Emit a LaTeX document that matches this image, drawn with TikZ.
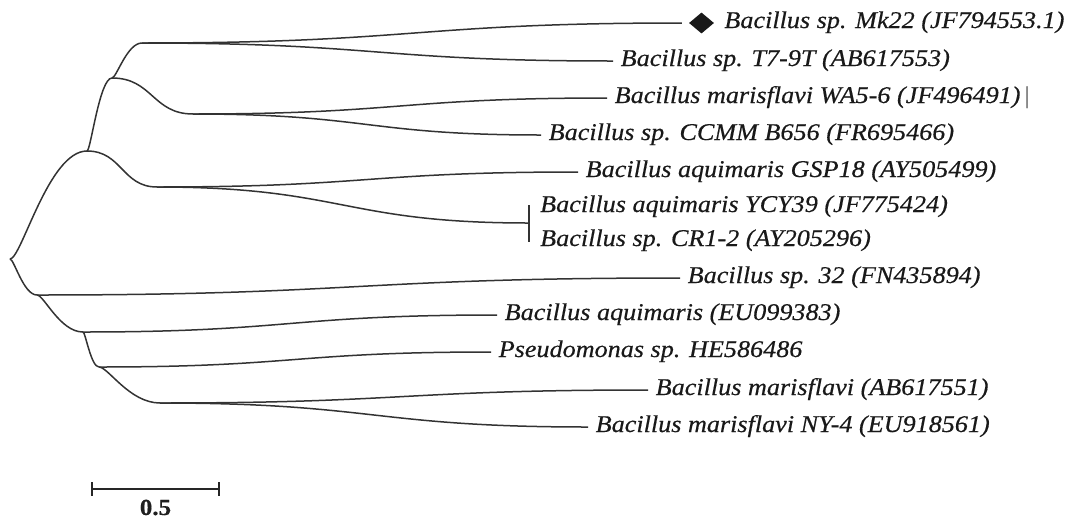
\documentclass[tikz,border=0pt]{standalone}
\usepackage{fontspec}
\setmainfont{Liberation Serif}[FakeStretch=1.09, FakeBold=0.4]
\usetikzlibrary{calc,shapes.geometric}
\begin{document}
\begin{tikzpicture}[x=1pt,y=-1pt,
  edge/.style={draw=black!80, line width=1.5pt},
  sig/.style={to path={let \p1=(\tikztostart),\p2=(\tikztotarget) in
     .. controls ({\x1+#1*(\x2-\x1)},\y1) and ({0.5*\x1+0.5*\x2},\y2) .. (\tikztotarget)}},
  sig/.default=0.5,
  lab/.style={anchor=west, inner xsep=7.5pt, inner ysep=0pt, text height=16pt, text depth=6pt,
     font=\fontsize{24}{28}\selectfont\itshape, text=black!90},
  tip/.style={diamond, fill=black!90, minimum width=25pt, minimum height=21pt, inner sep=0pt},
  scalebar/.style={draw=black!85, line width=2.8pt}
]
\useasboundingbox (0,0) rectangle (1070,520);

% internal nodes
\coordinate (R) at (10,259);
\coordinate (D) at (87,151);
\coordinate (B) at (112,78);
\coordinate (A) at (142,43);
\coordinate (C) at (193,114);
\coordinate (E) at (157,187);
\coordinate (F) at (37,295);
\coordinate (G) at (83,332);
\coordinate (H) at (99,367);
\coordinate (I) at (160,403);
\coordinate (Ym) at (529,223);
\coordinate (Yt) at (529,205);
\coordinate (Yb) at (529,242);

% leaves
\node[tip] (dia) at (701.5,23) {};
\node[lab, inner xsep=10pt] (t1) at (dia.east) {Bacillus sp. Mk22 (JF794553.1)};
\node[lab] (t2) at (613,61) {Bacillus sp. T7-9T (AB617553)};
\node[lab] (t3) at (607,98) {Bacillus marisflavi WA5-6 (JF496491){\upshape\color{black!60}\,|}};
\node[lab] (t4) at (541,135) {Bacillus sp. CCMM B656 (FR695466)};
\node[lab] (t5) at (578,172) {Bacillus aquimaris GSP18 (AY505499)};
\node[lab, inner xsep=11pt] (t6) at (529,207) {Bacillus aquimaris YCY39 (JF775424)};
\node[lab, inner xsep=11pt] (t7) at (529,241) {Bacillus sp. CR1-2 (AY205296)};
\node[lab] (t8) at (680,278) {Bacillus sp. 32 (FN435894)};
\node[lab] (t9) at (497,315) {Bacillus aquimaris (EU099383)};
\node[lab] (t10) at (491,352) {Pseudomonas sp. HE586486};
\node[lab] (t11) at (648,390) {Bacillus marisflavi (AB617551)};
\node[lab] (t12) at (588,427) {Bacillus marisflavi NY-4 (EU918561)};

% internal edges
\draw[edge] (R) to[sig=0.15] (D);
\draw[edge] (R) to[sig=0.15] (F);
\draw[edge] (D) to[sig=0.15] (B);
\draw[edge] (D) to[sig] (E);
\draw[edge] (B) to[sig=0.15] (A);
\draw[edge] (B) to[sig] (C);
\draw[edge] (F) to[sig=0.15] (G);
\draw[edge] (G) to[sig=0.15] (H);
\draw[edge] (H) to[sig=0.15] (I);

% leaf edges
\draw[edge, shorten >=7pt] (A) to[sig] (dia.west);
\draw[edge] (A) to[sig] (t2.west);
\draw[edge] (C) to[sig] (t3.west);
\draw[edge] (C) to[sig] (t4.west);
\draw[edge] (E) to[sig] (t5.west);
\draw[edge] (E) to[sig] (Ym);
\draw[edge] (Yt) -- (Yb);
\draw[edge] (F) to[sig] (t8.west);
\draw[edge] (G) to[sig] (t9.west);
\draw[edge] (H) to[sig] (t10.west);
\draw[edge] (I) to[sig] (t11.west);
\draw[edge] (I) to[sig] (t12.west);

% scale bar
\coordinate (sL) at (92,489);
\coordinate (sR) at (219,489);
\draw[scalebar] (sL) -- (sR);
\draw[scalebar, line width=2.6pt] ([yshift=7pt]sL) -- ([yshift=-7pt]sL);
\draw[scalebar, line width=2.6pt] ([yshift=7pt]sR) -- ([yshift=-7pt]sR);
\node[inner sep=0pt, font=\fontsize{23}{27}\selectfont\bfseries, text=black!88] (sl) at (155.5,507.5) {0.5};
\end{tikzpicture}
\end{document}
